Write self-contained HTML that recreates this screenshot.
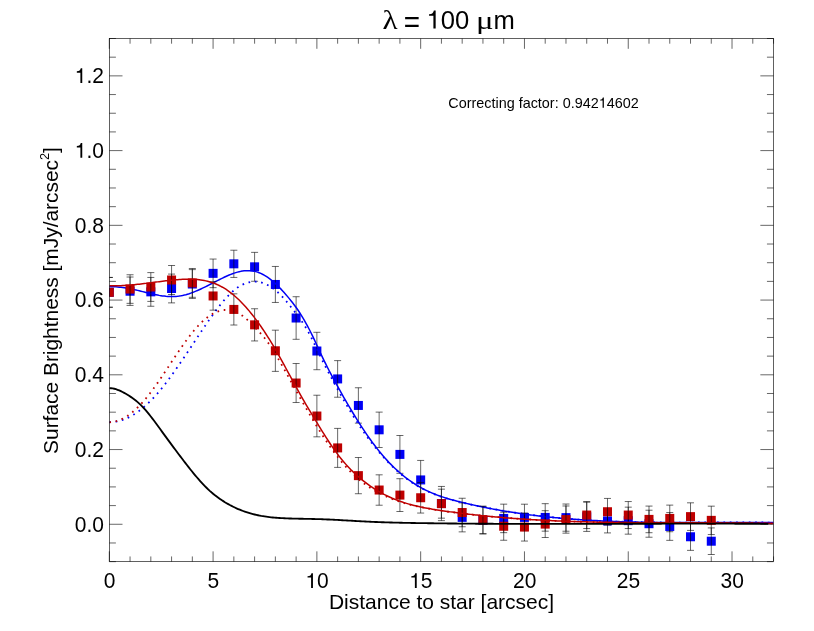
<!DOCTYPE html><html><head><meta charset="utf-8"><title>plot</title>
<style>html,body{margin:0;padding:0;background:#fff}svg{display:block}text{font-family:"Liberation Sans",sans-serif;fill:#000}.sy{font-family:"Liberation Serif",serif}</style></head><body><div style="will-change:transform;width:814px;height:631px;overflow:hidden;background:#fff">
<svg width="814" height="631" viewBox="0 0 814 631">
<rect width="814" height="631" fill="#fff"/>
<defs><clipPath id="c"><rect x="109.30" y="38.50" width="664.25" height="523.15"/></clipPath></defs>
<g clip-path="url(#c)">
<g fill="#0000f6"><rect x="104.80" y="287.84" width="9.0" height="9.0"/><rect x="125.56" y="286.72" width="9.0" height="9.0"/><rect x="146.32" y="287.35" width="9.0" height="9.0"/><rect x="167.07" y="283.99" width="9.0" height="9.0"/><rect x="187.83" y="279.51" width="9.0" height="9.0"/><rect x="208.59" y="268.86" width="9.0" height="9.0"/><rect x="229.35" y="259.33" width="9.0" height="9.0"/><rect x="250.10" y="262.32" width="9.0" height="9.0"/><rect x="270.86" y="279.96" width="9.0" height="9.0"/><rect x="291.62" y="313.51" width="9.0" height="9.0"/><rect x="312.38" y="346.51" width="9.0" height="9.0"/><rect x="333.14" y="374.42" width="9.0" height="9.0"/><rect x="353.89" y="400.95" width="9.0" height="9.0"/><rect x="374.65" y="425.32" width="9.0" height="9.0"/><rect x="395.41" y="449.90" width="9.0" height="9.0"/><rect x="416.17" y="475.43" width="9.0" height="9.0"/><rect x="436.93" y="499.04" width="9.0" height="9.0"/><rect x="457.68" y="512.87" width="9.0" height="9.0"/><rect x="478.44" y="515.67" width="9.0" height="9.0"/><rect x="499.20" y="513.92" width="9.0" height="9.0"/><rect x="519.96" y="512.91" width="9.0" height="9.0"/><rect x="540.71" y="512.91" width="9.0" height="9.0"/><rect x="561.47" y="513.13" width="9.0" height="9.0"/><rect x="582.23" y="512.31" width="9.0" height="9.0"/><rect x="602.99" y="516.42" width="9.0" height="9.0"/><rect x="623.75" y="516.16" width="9.0" height="9.0"/><rect x="644.50" y="519.22" width="9.0" height="9.0"/><rect x="665.26" y="521.95" width="9.0" height="9.0"/><rect x="686.02" y="532.26" width="9.0" height="9.0"/><rect x="706.78" y="536.71" width="9.0" height="9.0"/></g>
<path d="M105.80 277.44 H112.80 M105.80 307.24 H112.80 M130.06 277.02 V305.42 M126.56 277.02 H133.56 M126.56 305.42 H133.56 M150.82 277.45 V306.25 M147.32 277.45 H154.32 M147.32 306.25 H154.32 M171.57 274.09 V302.89 M168.07 274.09 H175.07 M168.07 302.89 H175.07 M192.33 269.61 V298.41 M188.83 269.61 H195.83 M188.83 298.41 H195.83 M213.09 259.06 V287.66 M209.59 259.06 H216.59 M209.59 287.66 H216.59 M233.85 250.23 V277.43 M230.35 250.23 H237.35 M230.35 277.43 H237.35 M254.60 252.37 V281.27 M251.10 252.37 H258.10 M251.10 281.27 H258.10 M275.36 266.46 V302.46 M271.86 266.46 H278.86 M271.86 302.46 H278.86 M296.12 296.71 V339.31 M292.62 296.71 H299.62 M292.62 339.31 H299.62 M316.88 332.31 V369.71 M313.38 332.31 H320.38 M313.38 369.71 H320.38 M337.64 360.62 V397.22 M334.14 360.62 H341.14 M334.14 397.22 H341.14 M358.39 387.75 V423.15 M354.89 387.75 H361.89 M354.89 423.15 H361.89 M379.15 412.12 V447.52 M375.65 412.12 H382.65 M375.65 447.52 H382.65 M399.91 435.50 V473.30 M396.41 435.50 H403.41 M396.41 473.30 H403.41 M420.67 460.43 V499.43 M417.17 460.43 H424.17 M417.17 499.43 H424.17 M441.43 486.44 V520.64 M437.93 486.44 H444.93 M437.93 520.64 H444.93 M462.18 502.87 V531.87 M458.68 502.87 H465.68 M458.68 531.87 H465.68 M482.94 506.42 V533.92 M479.44 506.42 H486.44 M479.44 533.92 H486.44 M503.70 504.17 V532.67 M500.20 504.17 H507.20 M500.20 532.67 H507.20 M524.46 504.21 V530.61 M520.96 504.21 H527.96 M520.96 530.61 H527.96 M545.21 503.66 V531.16 M541.71 503.66 H548.71 M541.71 531.16 H548.71 M565.97 504.03 V531.23 M562.47 504.03 H569.47 M562.47 531.23 H569.47 M586.73 502.21 V531.41 M583.23 502.21 H590.23 M583.23 531.41 H590.23 M607.49 508.92 V532.92 M603.99 508.92 H610.99 M603.99 532.92 H610.99 M628.25 507.16 V534.16 M624.75 507.16 H631.75 M624.75 534.16 H631.75 M649.00 510.22 V537.22 M645.50 510.22 H652.50 M645.50 537.22 H652.50 M669.76 512.55 V540.35 M666.26 512.55 H673.26 M666.26 540.35 H673.26 M690.52 523.16 V550.36 M687.02 523.16 H694.02 M687.02 550.36 H694.02 M711.28 527.91 V554.51 M707.78 527.91 H714.78 M707.78 554.51 H714.78" stroke="#000" stroke-width="0.6" fill="none"/>
</g>
<g clip-path="url(#c)" fill="none" stroke-linejoin="round">
<path d="M109.30 286.62 L110.96 286.65 L112.63 286.70 L114.29 286.77 L115.96 286.87 L117.62 287.00 L119.29 287.15 L120.95 287.32 L122.62 287.52 L124.28 287.75 L125.95 288.00 L127.61 288.27 L129.28 288.57 L130.94 288.90 L132.61 289.24 L134.27 289.61 L135.94 289.99 L137.60 290.38 L139.27 290.78 L140.93 291.19 L142.60 291.61 L144.26 292.02 L145.93 292.44 L147.59 292.85 L149.25 293.26 L150.92 293.65 L152.58 294.03 L154.25 294.40 L155.91 294.75 L157.58 295.07 L159.24 295.38 L160.91 295.65 L162.57 295.90 L164.24 296.11 L165.90 296.29 L167.57 296.43 L169.23 296.52 L170.90 296.58 L172.56 296.58 L174.23 296.54 L175.89 296.44 L177.56 296.29 L179.22 296.08 L180.89 295.81 L182.55 295.48 L184.22 295.10 L185.88 294.67 L187.54 294.19 L189.21 293.67 L190.87 293.10 L192.54 292.49 L194.20 291.85 L195.87 291.17 L197.53 290.46 L199.20 289.72 L200.86 288.96 L202.53 288.18 L204.19 287.37 L205.86 286.55 L207.52 285.71 L209.19 284.86 L210.85 284.01 L212.52 283.15 L214.18 282.28 L215.85 281.42 L217.51 280.56 L219.18 279.71 L220.84 278.87 L222.51 278.05 L224.17 277.25 L225.84 276.48 L227.50 275.74 L229.16 275.03 L230.83 274.36 L232.49 273.73 L234.16 273.15 L235.82 272.62 L237.49 272.14 L239.15 271.72 L240.82 271.36 L242.48 271.07 L244.15 270.85 L245.81 270.70 L247.48 270.63 L249.14 270.65 L250.81 270.75 L252.47 270.95 L254.14 271.23 L255.80 271.62 L257.47 272.11 L259.13 272.71 L260.80 273.41 L262.46 274.22 L264.13 275.12 L265.79 276.11 L267.45 277.20 L269.12 278.38 L270.78 279.65 L272.45 280.99 L274.11 282.42 L275.78 283.93 L277.44 285.50 L279.11 287.15 L280.77 288.87 L282.44 290.65 L284.10 292.50 L285.77 294.40 L287.43 296.36 L289.10 298.37 L290.76 300.43 L292.43 302.54 L294.09 304.71 L295.76 306.96 L297.42 309.30 L299.09 311.75 L300.75 314.32 L302.42 317.02 L304.08 319.83 L305.74 322.77 L307.41 325.82 L309.07 328.98 L310.74 332.25 L312.40 335.64 L314.07 339.12 L315.73 342.71 L317.40 346.36 L319.06 350.01 L320.73 353.61 L322.39 357.13 L324.06 360.58 L325.72 363.94 L327.39 367.25 L329.05 370.48 L330.72 373.67 L332.38 376.80 L334.05 379.89 L335.71 382.95 L337.38 385.97 L339.04 388.97 L340.71 391.94 L342.37 394.89 L344.03 397.81 L345.70 400.71 L347.36 403.58 L349.03 406.42 L350.69 409.22 L352.36 412.00 L354.02 414.74 L355.69 417.45 L357.35 420.12 L359.02 422.75 L360.68 425.35 L362.35 427.90 L364.01 430.42 L365.68 432.89 L367.34 435.32 L369.01 437.70 L370.67 440.04 L372.34 442.33 L374.00 444.57 L375.67 446.76 L377.33 448.90 L379.00 450.98 L380.66 453.02 L382.33 455.00 L383.99 456.92 L385.65 458.80 L387.32 460.63 L388.98 462.40 L390.65 464.13 L392.31 465.80 L393.98 467.43 L395.64 469.01 L397.31 470.55 L398.97 472.04 L400.64 473.48 L402.30 474.88 L403.97 476.23 L405.63 477.54 L407.30 478.80 L408.96 480.02 L410.63 481.21 L412.29 482.35 L413.96 483.45 L415.62 484.50 L417.29 485.52 L418.95 486.51 L420.62 487.45 L422.28 488.36 L423.94 489.23 L425.61 490.07 L427.27 490.87 L428.94 491.65 L430.60 492.39 L432.27 493.11 L433.93 493.79 L435.60 494.45 L437.26 495.09 L438.93 495.70 L440.59 496.29 L442.26 496.86 L443.92 497.40 L445.59 497.93 L447.25 498.44 L448.92 498.94 L450.58 499.42 L452.25 499.88 L453.91 500.33 L455.58 500.77 L457.24 501.20 L458.91 501.62 L460.57 502.04 L462.23 502.44 L463.90 502.84 L465.56 503.24 L467.23 503.63 L468.89 504.02 L470.56 504.40 L472.22 504.77 L473.89 505.14 L475.55 505.50 L477.22 505.86 L478.88 506.22 L480.55 506.57 L482.21 506.91 L483.88 507.25 L485.54 507.59 L487.21 507.92 L488.87 508.24 L490.54 508.56 L492.20 508.88 L493.87 509.19 L495.53 509.50 L497.20 509.80 L498.86 510.09 L500.52 510.39 L502.19 510.67 L503.85 510.96 L505.52 511.24 L507.18 511.51 L508.85 511.78 L510.51 512.05 L512.18 512.31 L513.84 512.56 L515.51 512.82 L517.17 513.06 L518.84 513.31 L520.50 513.55 L522.17 513.79 L523.83 514.02 L525.50 514.24 L527.16 514.47 L528.83 514.69 L530.49 514.90 L532.16 515.12 L533.82 515.32 L535.49 515.53 L537.15 515.73 L538.82 515.93 L540.48 516.12 L542.14 516.31 L543.81 516.49 L545.47 516.67 L547.14 516.85 L548.80 517.03 L550.47 517.20 L552.13 517.37 L553.80 517.53 L555.46 517.69 L557.13 517.85 L558.79 518.00 L560.46 518.15 L562.12 518.30 L563.79 518.45 L565.45 518.59 L567.12 518.72 L568.78 518.86 L570.45 518.99 L572.11 519.12 L573.78 519.24 L575.44 519.37 L577.11 519.49 L578.77 519.60 L580.43 519.72 L582.10 519.83 L583.76 519.94 L585.43 520.04 L587.09 520.14 L588.76 520.24 L590.42 520.34 L592.09 520.43 L593.75 520.53 L595.42 520.61 L597.08 520.70 L598.75 520.78 L600.41 520.87 L602.08 520.95 L603.74 521.02 L605.41 521.10 L607.07 521.17 L608.74 521.24 L610.40 521.31 L612.07 521.37 L613.73 521.43 L615.40 521.49 L617.06 521.55 L618.72 521.61 L620.39 521.66 L622.05 521.72 L623.72 521.77 L625.38 521.82 L627.05 521.86 L628.71 521.91 L630.38 521.95 L632.04 521.99 L633.71 522.03 L635.37 522.07 L637.04 522.10 L638.70 522.14 L640.37 522.17 L642.03 522.20 L643.70 522.23 L645.36 522.26 L647.03 522.28 L648.69 522.31 L650.36 522.33 L652.02 522.35 L653.69 522.37 L655.35 522.39 L657.01 522.41 L658.68 522.43 L660.34 522.44 L662.01 522.46 L663.67 522.47 L665.34 522.48 L667.00 522.49 L668.67 522.50 L670.33 522.51 L672.00 522.52 L673.66 522.53 L675.33 522.53 L676.99 522.54 L678.66 522.54 L680.32 522.55 L681.99 522.55 L683.65 522.55 L685.32 522.55 L686.98 522.55 L688.65 522.55 L690.31 522.55 L691.98 522.55 L693.64 522.55 L695.31 522.55 L696.97 522.55 L698.63 522.54 L700.30 522.54 L701.96 522.54 L703.63 522.53 L705.29 522.53 L706.96 522.52 L708.62 522.52 L710.29 522.51 L711.95 522.51 L713.62 522.50 L715.28 522.50 L716.95 522.49 L718.61 522.49 L720.28 522.48 L721.94 522.48 L723.61 522.47 L725.27 522.47 L726.94 522.46 L728.60 522.46 L730.27 522.45 L731.93 522.45 L733.60 522.45 L735.26 522.44 L736.92 522.44 L738.59 522.44 L740.25 522.44 L741.92 522.43 L743.58 522.43 L745.25 522.43 L746.91 522.43 L748.58 522.43 L750.24 522.44 L751.91 522.44 L753.57 522.44 L755.24 522.44 L756.90 522.45 L758.57 522.45 L760.23 522.46 L761.90 522.47 L763.56 522.47 L765.23 522.48 L766.89 522.49 L768.56 522.50 L770.22 522.52 L771.89 522.53 L773.55 522.54" stroke="#0000f6" stroke-width="1.5"/>
<path d="M109.30 422.24 L110.96 422.19 L112.63 422.08 L114.29 421.89 L115.96 421.63 L117.62 421.30 L119.29 420.90 L120.95 420.44 L122.62 419.90 L124.28 419.30 L125.95 418.62 L127.61 417.88 L129.28 417.07 L130.94 416.20 L132.61 415.26 L134.27 414.25 L135.94 413.17 L137.60 412.03 L139.27 410.82 L140.93 409.55 L142.60 408.21 L144.26 406.81 L145.93 405.34 L147.59 403.81 L149.25 402.22 L150.92 400.56 L152.58 398.84 L154.25 397.06 L155.91 395.22 L157.58 393.32 L159.24 391.36 L160.91 389.35 L162.57 387.29 L164.24 385.19 L165.90 383.04 L167.57 380.84 L169.23 378.61 L170.90 376.34 L172.56 374.04 L174.23 371.70 L175.89 369.34 L177.56 366.95 L179.22 364.53 L180.89 362.09 L182.55 359.64 L184.22 357.17 L185.88 354.68 L187.54 352.18 L189.21 349.68 L190.87 347.17 L192.54 344.65 L194.20 342.14 L195.87 339.62 L197.53 337.11 L199.20 334.61 L200.86 332.12 L202.53 329.64 L204.19 327.17 L205.86 324.73 L207.52 322.30 L209.19 319.89 L210.85 317.52 L212.52 315.17 L214.18 312.87 L215.85 310.61 L217.51 308.40 L219.18 306.24 L220.84 304.14 L222.51 302.11 L224.17 300.15 L225.84 298.26 L227.50 296.45 L229.16 294.73 L230.83 293.10 L232.49 291.57 L234.16 290.14 L235.82 288.81 L237.49 287.60 L239.15 286.50 L240.82 285.51 L242.48 284.63 L244.15 283.87 L245.81 283.22 L247.48 282.68 L249.14 282.26 L250.81 281.95 L252.47 281.74 L254.14 281.66 L255.80 281.68 L257.47 281.81 L259.13 282.05 L260.80 282.41 L262.46 282.87 L264.13 283.45 L265.79 284.13 L267.45 284.93 L269.12 285.83 L270.78 286.85 L272.45 287.97 L274.11 289.20 L275.78 290.54 L277.44 291.98 L279.11 293.52 L280.77 295.16 L282.44 296.89 L284.10 298.71 L285.77 300.63 L287.43 302.62 L289.10 304.66 L290.76 306.75 L292.43 308.84 L294.09 310.95 L295.76 313.08 L297.42 315.25 L299.09 317.48 L300.75 319.81 L302.42 322.23 L304.08 324.79 L305.74 327.49 L307.41 330.36 L309.07 333.39 L310.74 336.56 L312.40 339.84 L314.07 343.21 L315.73 346.63 L317.40 350.09 L319.06 353.56 L320.73 357.02 L322.39 360.43 L324.06 363.77 L325.72 367.04 L327.39 370.25 L329.05 373.41 L330.72 376.54 L332.38 379.64 L334.05 382.71 L335.71 385.77 L337.38 388.79 L339.04 391.80 L340.71 394.77 L342.37 397.71 L344.03 400.62 L345.70 403.50 L347.36 406.34 L349.03 409.15 L350.69 411.91 L352.36 414.63 L354.02 417.31 L355.69 419.95 L357.35 422.54 L359.02 425.08 L360.68 427.58 L362.35 430.02 L364.01 432.43 L365.68 434.78 L367.34 437.09 L369.01 439.35 L370.67 441.57 L372.34 443.74 L374.00 445.87 L375.67 447.95 L377.33 449.99 L379.00 451.98 L380.66 453.93 L382.33 455.83 L383.99 457.69 L385.65 459.50 L387.32 461.27 L388.98 463.00 L390.65 464.68 L392.31 466.32 L393.98 467.92 L395.64 469.47 L397.31 470.98 L398.97 472.45 L400.64 473.87 L402.30 475.26 L403.97 476.60 L405.63 477.90 L407.30 479.16 L408.96 480.37 L410.63 481.55 L412.29 482.68 L413.96 483.78 L415.62 484.83 L417.29 485.84 L418.95 486.81 L420.62 487.75 L422.28 488.65 L423.94 489.52 L425.61 490.35 L427.27 491.15 L428.94 491.92 L430.60 492.65 L432.27 493.36 L433.93 494.04 L435.60 494.70 L437.26 495.33 L438.93 495.93 L440.59 496.51 L442.26 497.07 L443.92 497.61 L445.59 498.13 L447.25 498.63 L448.92 499.12 L450.58 499.59 L452.25 500.04 L453.91 500.48 L455.58 500.91 L457.24 501.33 L458.91 501.74 L460.57 502.14 L462.23 502.54 L463.90 502.92 L465.56 503.31 L467.23 503.68 L468.89 504.06 L470.56 504.42 L472.22 504.79 L473.89 505.15 L475.55 505.50 L477.22 505.85 L478.88 506.20 L480.55 506.54 L482.21 506.88 L483.88 507.21 L485.54 507.54 L487.21 507.87 L488.87 508.19 L490.54 508.50 L492.20 508.81 L493.87 509.12 L495.53 509.42 L497.20 509.72 L498.86 510.02 L500.52 510.31 L502.19 510.59 L503.85 510.87 L505.52 511.15 L507.18 511.43 L508.85 511.70 L510.51 511.96 L512.18 512.22 L513.84 512.48 L515.51 512.74 L517.17 512.99 L518.84 513.23 L520.50 513.47 L522.17 513.71 L523.83 513.95 L525.50 514.18 L527.16 514.40 L528.83 514.62 L530.49 514.84 L532.16 515.06 L533.82 515.27 L535.49 515.48 L537.15 515.68 L538.82 515.88 L540.48 516.08 L542.14 516.27 L543.81 516.46 L545.47 516.65 L547.14 516.83 L548.80 517.01 L550.47 517.18 L552.13 517.35 L553.80 517.52 L555.46 517.68 L557.13 517.84 L558.79 518.00 L560.46 518.16 L562.12 518.31 L563.79 518.45 L565.45 518.60 L567.12 518.74 L568.78 518.88 L570.45 519.01 L572.11 519.14 L573.78 519.27 L575.44 519.39 L577.11 519.51 L578.77 519.63 L580.43 519.75 L582.10 519.86 L583.76 519.97 L585.43 520.07 L587.09 520.18 L588.76 520.28 L590.42 520.38 L592.09 520.47 L593.75 520.56 L595.42 520.65 L597.08 520.74 L598.75 520.82 L600.41 520.91 L602.08 520.98 L603.74 521.06 L605.41 521.14 L607.07 521.21 L608.74 521.28 L610.40 521.34 L612.07 521.41 L613.73 521.47 L615.40 521.53 L617.06 521.59 L618.72 521.65 L620.39 521.70 L622.05 521.75 L623.72 521.80 L625.38 521.85 L627.05 521.89 L628.71 521.94 L630.38 521.98 L632.04 522.02 L633.71 522.06 L635.37 522.09 L637.04 522.13 L638.70 522.16 L640.37 522.19 L642.03 522.22 L643.70 522.25 L645.36 522.28 L647.03 522.30 L648.69 522.32 L650.36 522.35 L652.02 522.37 L653.69 522.39 L655.35 522.40 L657.01 522.42 L658.68 522.43 L660.34 522.45 L662.01 522.46 L663.67 522.47 L665.34 522.48 L667.00 522.49 L668.67 522.50 L670.33 522.51 L672.00 522.52 L673.66 522.52 L675.33 522.53 L676.99 522.53 L678.66 522.53 L680.32 522.54 L681.99 522.54 L683.65 522.54 L685.32 522.54 L686.98 522.54 L688.65 522.54 L690.31 522.53 L691.98 522.53 L693.64 522.53 L695.31 522.53 L696.97 522.52 L698.63 522.52 L700.30 522.52 L701.96 522.51 L703.63 522.51 L705.29 522.50 L706.96 522.50 L708.62 522.49 L710.29 522.49 L711.95 522.48 L713.62 522.48 L715.28 522.47 L716.95 522.47 L718.61 522.46 L720.28 522.46 L721.94 522.45 L723.61 522.45 L725.27 522.44 L726.94 522.44 L728.60 522.43 L730.27 522.43 L731.93 522.43 L733.60 522.43 L735.26 522.42 L736.92 522.42 L738.59 522.42 L740.25 522.42 L741.92 522.42 L743.58 522.42 L745.25 522.42 L746.91 522.43 L748.58 522.43 L750.24 522.43 L751.91 522.44 L753.57 522.44 L755.24 522.45 L756.90 522.46 L758.57 522.46 L760.23 522.47 L761.90 522.49 L763.56 522.50 L765.23 522.51 L766.89 522.52 L768.56 522.54 L770.22 522.56 L771.89 522.57 L773.55 522.59" stroke="#0000f6" stroke-width="1.8" stroke-dasharray="1.7 4.65"/>
</g>
<g clip-path="url(#c)">
<g fill="#be0000"><rect x="104.80" y="287.84" width="9.0" height="9.0"/><rect x="125.56" y="284.55" width="9.0" height="9.0"/><rect x="146.32" y="282.50" width="9.0" height="9.0"/><rect x="167.07" y="275.51" width="9.0" height="9.0"/><rect x="187.83" y="278.39" width="9.0" height="9.0"/><rect x="208.59" y="291.46" width="9.0" height="9.0"/><rect x="229.35" y="304.92" width="9.0" height="9.0"/><rect x="250.10" y="320.35" width="9.0" height="9.0"/><rect x="270.86" y="346.28" width="9.0" height="9.0"/><rect x="291.62" y="378.53" width="9.0" height="9.0"/><rect x="312.38" y="411.53" width="9.0" height="9.0"/><rect x="333.14" y="443.40" width="9.0" height="9.0"/><rect x="353.89" y="471.13" width="9.0" height="9.0"/><rect x="374.65" y="485.52" width="9.0" height="9.0"/><rect x="395.41" y="490.60" width="9.0" height="9.0"/><rect x="416.17" y="493.25" width="9.0" height="9.0"/><rect x="436.93" y="499.16" width="9.0" height="9.0"/><rect x="457.68" y="508.01" width="9.0" height="9.0"/><rect x="478.44" y="515.45" width="9.0" height="9.0"/><rect x="499.20" y="521.76" width="9.0" height="9.0"/><rect x="519.96" y="522.55" width="9.0" height="9.0"/><rect x="540.71" y="519.60" width="9.0" height="9.0"/><rect x="561.47" y="515.07" width="9.0" height="9.0"/><rect x="582.23" y="510.55" width="9.0" height="9.0"/><rect x="602.99" y="507.23" width="9.0" height="9.0"/><rect x="623.75" y="510.55" width="9.0" height="9.0"/><rect x="644.50" y="514.89" width="9.0" height="9.0"/><rect x="665.26" y="513.92" width="9.0" height="9.0"/><rect x="686.02" y="512.12" width="9.0" height="9.0"/><rect x="706.78" y="515.86" width="9.0" height="9.0"/></g>
<path d="M105.80 277.44 H112.80 M105.80 307.24 H112.80 M130.06 274.75 V303.35 M126.56 274.75 H133.56 M126.56 303.35 H133.56 M150.82 272.60 V301.40 M147.32 272.60 H154.32 M147.32 301.40 H154.32 M171.57 265.51 V294.51 M168.07 265.51 H175.07 M168.07 294.51 H175.07 M192.33 268.49 V297.29 M188.83 268.49 H195.83 M188.83 297.29 H195.83 M213.09 281.76 V310.16 M209.59 281.76 H216.59 M209.59 310.16 H216.59 M233.85 293.82 V325.02 M230.35 293.82 H237.35 M230.35 325.02 H237.35 M254.60 308.75 V340.95 M251.10 308.75 H258.10 M251.10 340.95 H258.10 M275.36 330.18 V371.38 M271.86 330.18 H278.86 M271.86 371.38 H278.86 M296.12 363.53 V402.53 M292.62 363.53 H299.62 M292.62 402.53 H299.62 M316.88 395.23 V436.83 M313.38 395.23 H320.38 M313.38 436.83 H320.38 M337.64 428.40 V467.40 M334.14 428.40 H341.14 M334.14 467.40 H341.14 M358.39 457.53 V493.73 M354.89 457.53 H361.89 M354.89 493.73 H361.89 M379.15 474.82 V505.22 M375.65 474.82 H382.65 M375.65 505.22 H382.65 M399.91 478.70 V511.50 M396.41 478.70 H403.41 M396.41 511.50 H403.41 M420.67 482.45 V513.05 M417.17 482.45 H424.17 M417.17 513.05 H424.17 M441.43 489.16 V518.16 M437.93 489.16 H444.93 M437.93 518.16 H444.93 M462.18 498.26 V526.76 M458.68 498.26 H465.68 M458.68 526.76 H465.68 M482.94 506.20 V533.70 M479.44 506.20 H486.44 M479.44 533.70 H486.44 M503.70 512.26 V540.26 M500.20 512.26 H507.20 M500.20 540.26 H507.20 M524.46 513.05 V541.05 M520.96 513.05 H527.96 M520.96 541.05 H527.96 M545.21 510.70 V537.50 M541.71 510.70 H548.71 M541.71 537.50 H548.71 M565.97 505.97 V533.17 M562.47 505.97 H569.47 M562.47 533.17 H569.47 M586.73 501.55 V528.55 M583.23 501.55 H590.23 M583.23 528.55 H590.23 M607.49 498.43 V525.03 M603.99 498.43 H610.99 M603.99 525.03 H610.99 M628.25 501.55 V528.55 M624.75 501.55 H631.75 M624.75 528.55 H631.75 M649.00 506.09 V532.69 M645.50 506.09 H652.50 M645.50 532.69 H652.50 M669.76 505.12 V531.72 M666.26 505.12 H673.26 M666.26 531.72 H673.26 M690.52 502.82 V530.42 M687.02 502.82 H694.02 M687.02 530.42 H694.02 M711.28 506.16 V534.56 M707.78 506.16 H714.78 M707.78 534.56 H714.78" stroke="#000" stroke-width="0.6" fill="none"/>
</g>
<g clip-path="url(#c)" fill="none" stroke-linejoin="round">
<path d="M109.30 285.86 L110.96 285.86 L112.63 285.85 L114.29 285.83 L115.96 285.80 L117.62 285.76 L119.29 285.70 L120.95 285.64 L122.62 285.56 L124.28 285.47 L125.95 285.37 L127.61 285.26 L129.28 285.14 L130.94 285.00 L132.61 284.86 L134.27 284.70 L135.94 284.53 L137.60 284.36 L139.27 284.17 L140.93 283.98 L142.60 283.79 L144.26 283.58 L145.93 283.38 L147.59 283.17 L149.25 282.95 L150.92 282.74 L152.58 282.52 L154.25 282.30 L155.91 282.09 L157.58 281.87 L159.24 281.66 L160.91 281.45 L162.57 281.24 L164.24 281.04 L165.90 280.84 L167.57 280.65 L169.23 280.47 L170.90 280.30 L172.56 280.13 L174.23 279.97 L175.89 279.83 L177.56 279.69 L179.22 279.57 L180.89 279.46 L182.55 279.37 L184.22 279.29 L185.88 279.24 L187.54 279.20 L189.21 279.19 L190.87 279.21 L192.54 279.25 L194.20 279.33 L195.87 279.43 L197.53 279.57 L199.20 279.75 L200.86 279.96 L202.53 280.22 L204.19 280.52 L205.86 280.86 L207.52 281.25 L209.19 281.69 L210.85 282.18 L212.52 282.72 L214.18 283.32 L215.85 283.98 L217.51 284.69 L219.18 285.47 L220.84 286.31 L222.51 287.22 L224.17 288.19 L225.84 289.24 L227.50 290.35 L229.16 291.54 L230.83 292.79 L232.49 294.11 L234.16 295.50 L235.82 296.95 L237.49 298.47 L239.15 300.05 L240.82 301.70 L242.48 303.41 L244.15 305.19 L245.81 307.03 L247.48 308.93 L249.14 310.89 L250.81 312.91 L252.47 314.99 L254.14 317.13 L255.80 319.33 L257.47 321.59 L259.13 323.91 L260.80 326.28 L262.46 328.71 L264.13 331.19 L265.79 333.73 L267.45 336.32 L269.12 338.96 L270.78 341.66 L272.45 344.41 L274.11 347.21 L275.78 350.06 L277.44 352.96 L279.11 355.91 L280.77 358.89 L282.44 361.90 L284.10 364.94 L285.77 367.99 L287.43 371.06 L289.10 374.14 L290.76 377.21 L292.43 380.29 L294.09 383.35 L295.76 386.40 L297.42 389.42 L299.09 392.42 L300.75 395.38 L302.42 398.30 L304.08 401.18 L305.74 404.02 L307.41 406.82 L309.07 409.60 L310.74 412.37 L312.40 415.13 L314.07 417.89 L315.73 420.64 L317.40 423.39 L319.06 426.13 L320.73 428.84 L322.39 431.54 L324.06 434.20 L325.72 436.84 L327.39 439.43 L329.05 441.98 L330.72 444.48 L332.38 446.93 L334.05 449.32 L335.71 451.64 L337.38 453.90 L339.04 456.08 L340.71 458.19 L342.37 460.24 L344.03 462.21 L345.70 464.12 L347.36 465.96 L349.03 467.74 L350.69 469.47 L352.36 471.13 L354.02 472.75 L355.69 474.31 L357.35 475.82 L359.02 477.29 L360.68 478.71 L362.35 480.09 L364.01 481.42 L365.68 482.71 L367.34 483.96 L369.01 485.17 L370.67 486.34 L372.34 487.47 L374.00 488.56 L375.67 489.61 L377.33 490.63 L379.00 491.61 L380.66 492.55 L382.33 493.47 L383.99 494.34 L385.65 495.19 L387.32 496.00 L388.98 496.79 L390.65 497.54 L392.31 498.27 L393.98 498.96 L395.64 499.63 L397.31 500.28 L398.97 500.89 L400.64 501.48 L402.30 502.05 L403.97 502.60 L405.63 503.12 L407.30 503.62 L408.96 504.10 L410.63 504.56 L412.29 505.01 L413.96 505.43 L415.62 505.84 L417.29 506.23 L418.95 506.60 L420.62 506.96 L422.28 507.31 L423.94 507.64 L425.61 507.96 L427.27 508.27 L428.94 508.57 L430.60 508.86 L432.27 509.14 L433.93 509.41 L435.60 509.68 L437.26 509.94 L438.93 510.19 L440.59 510.44 L442.26 510.69 L443.92 510.93 L445.59 511.17 L447.25 511.40 L448.92 511.64 L450.58 511.87 L452.25 512.09 L453.91 512.32 L455.58 512.54 L457.24 512.75 L458.91 512.97 L460.57 513.18 L462.23 513.38 L463.90 513.59 L465.56 513.79 L467.23 513.99 L468.89 514.18 L470.56 514.38 L472.22 514.57 L473.89 514.75 L475.55 514.94 L477.22 515.12 L478.88 515.30 L480.55 515.47 L482.21 515.65 L483.88 515.82 L485.54 515.98 L487.21 516.15 L488.87 516.31 L490.54 516.47 L492.20 516.63 L493.87 516.78 L495.53 516.93 L497.20 517.08 L498.86 517.23 L500.52 517.37 L502.19 517.51 L503.85 517.65 L505.52 517.78 L507.18 517.92 L508.85 518.05 L510.51 518.18 L512.18 518.31 L513.84 518.43 L515.51 518.55 L517.17 518.67 L518.84 518.79 L520.50 518.90 L522.17 519.02 L523.83 519.13 L525.50 519.24 L527.16 519.34 L528.83 519.45 L530.49 519.55 L532.16 519.65 L533.82 519.74 L535.49 519.84 L537.15 519.93 L538.82 520.03 L540.48 520.12 L542.14 520.20 L543.81 520.29 L545.47 520.37 L547.14 520.45 L548.80 520.53 L550.47 520.61 L552.13 520.69 L553.80 520.76 L555.46 520.84 L557.13 520.91 L558.79 520.98 L560.46 521.04 L562.12 521.11 L563.79 521.17 L565.45 521.24 L567.12 521.30 L568.78 521.35 L570.45 521.41 L572.11 521.47 L573.78 521.52 L575.44 521.58 L577.11 521.63 L578.77 521.68 L580.43 521.73 L582.10 521.77 L583.76 521.82 L585.43 521.86 L587.09 521.91 L588.76 521.95 L590.42 521.99 L592.09 522.03 L593.75 522.06 L595.42 522.10 L597.08 522.13 L598.75 522.17 L600.41 522.20 L602.08 522.23 L603.74 522.26 L605.41 522.29 L607.07 522.32 L608.74 522.35 L610.40 522.37 L612.07 522.40 L613.73 522.42 L615.40 522.45 L617.06 522.47 L618.72 522.49 L620.39 522.51 L622.05 522.53 L623.72 522.55 L625.38 522.57 L627.05 522.58 L628.71 522.60 L630.38 522.61 L632.04 522.63 L633.71 522.64 L635.37 522.65 L637.04 522.67 L638.70 522.68 L640.37 522.69 L642.03 522.70 L643.70 522.71 L645.36 522.72 L647.03 522.73 L648.69 522.73 L650.36 522.74 L652.02 522.75 L653.69 522.76 L655.35 522.76 L657.01 522.77 L658.68 522.77 L660.34 522.78 L662.01 522.78 L663.67 522.79 L665.34 522.79 L667.00 522.79 L668.67 522.80 L670.33 522.80 L672.00 522.80 L673.66 522.81 L675.33 522.81 L676.99 522.81 L678.66 522.81 L680.32 522.82 L681.99 522.82 L683.65 522.82 L685.32 522.82 L686.98 522.82 L688.65 522.82 L690.31 522.83 L691.98 522.83 L693.64 522.83 L695.31 522.83 L696.97 522.83 L698.63 522.84 L700.30 522.84 L701.96 522.84 L703.63 522.85 L705.29 522.85 L706.96 522.85 L708.62 522.86 L710.29 522.86 L711.95 522.86 L713.62 522.87 L715.28 522.87 L716.95 522.88 L718.61 522.88 L720.28 522.89 L721.94 522.90 L723.61 522.90 L725.27 522.91 L726.94 522.92 L728.60 522.93 L730.27 522.94 L731.93 522.95 L733.60 522.96 L735.26 522.97 L736.92 522.98 L738.59 522.99 L740.25 523.01 L741.92 523.02 L743.58 523.03 L745.25 523.05 L746.91 523.06 L748.58 523.08 L750.24 523.10 L751.91 523.12 L753.57 523.14 L755.24 523.16 L756.90 523.18 L758.57 523.20 L760.23 523.22 L761.90 523.25 L763.56 523.27 L765.23 523.30 L766.89 523.33 L768.56 523.35 L770.22 523.38 L771.89 523.41 L773.55 523.45" stroke="#be0000" stroke-width="1.5"/>
<path d="M109.30 422.28 L110.96 422.17 L112.63 421.97 L114.29 421.66 L115.96 421.25 L117.62 420.75 L119.29 420.14 L120.95 419.44 L122.62 418.65 L124.28 417.76 L125.95 416.78 L127.61 415.71 L129.28 414.55 L130.94 413.31 L132.61 411.98 L134.27 410.56 L135.94 409.06 L137.60 407.48 L139.27 405.82 L140.93 404.08 L142.60 402.26 L144.26 400.37 L145.93 398.40 L147.59 396.36 L149.25 394.25 L150.92 392.08 L152.58 389.86 L154.25 387.58 L155.91 385.25 L157.58 382.88 L159.24 380.47 L160.91 378.04 L162.57 375.57 L164.24 373.08 L165.90 370.58 L167.57 368.06 L169.23 365.54 L170.90 363.01 L172.56 360.49 L174.23 357.97 L175.89 355.47 L177.56 352.99 L179.22 350.53 L180.89 348.10 L182.55 345.71 L184.22 343.35 L185.88 341.03 L187.54 338.77 L189.21 336.56 L190.87 334.41 L192.54 332.32 L194.20 330.30 L195.87 328.35 L197.53 326.49 L199.20 324.70 L200.86 323.01 L202.53 321.41 L204.19 319.91 L205.86 318.51 L207.52 317.20 L209.19 316.00 L210.85 314.90 L212.52 313.91 L214.18 313.02 L215.85 312.24 L217.51 311.57 L219.18 311.02 L220.84 310.57 L222.51 310.24 L224.17 310.02 L225.84 309.93 L227.50 309.95 L229.16 310.09 L230.83 310.36 L232.49 310.75 L234.16 311.26 L235.82 311.91 L237.49 312.68 L239.15 313.58 L240.82 314.62 L242.48 315.78 L244.15 317.07 L245.81 318.46 L247.48 319.94 L249.14 321.51 L250.81 323.14 L252.47 324.82 L254.14 326.55 L255.80 328.31 L257.47 330.09 L259.13 331.87 L260.80 333.66 L262.46 335.50 L264.13 337.46 L265.79 339.57 L267.45 341.80 L269.12 344.16 L270.78 346.62 L272.45 349.19 L274.11 351.85 L275.78 354.58 L277.44 357.39 L279.11 360.25 L280.77 363.16 L282.44 366.11 L284.10 369.08 L285.77 372.07 L287.43 375.06 L289.10 378.06 L290.76 381.06 L292.43 384.06 L294.09 387.05 L295.76 390.03 L297.42 393.00 L299.09 395.97 L300.75 398.91 L302.42 401.85 L304.08 404.76 L305.74 407.66 L307.41 410.53 L309.07 413.38 L310.74 416.21 L312.40 419.01 L314.07 421.79 L315.73 424.53 L317.40 427.24 L319.06 429.91 L320.73 432.55 L322.39 435.15 L324.06 437.72 L325.72 440.24 L327.39 442.71 L329.05 445.15 L330.72 447.53 L332.38 449.87 L334.05 452.15 L335.71 454.38 L337.38 456.56 L339.04 458.68 L340.71 460.74 L342.37 462.74 L344.03 464.68 L345.70 466.56 L347.36 468.37 L349.03 470.13 L350.69 471.82 L352.36 473.46 L354.02 475.03 L355.69 476.56 L357.35 478.03 L359.02 479.45 L360.68 480.81 L362.35 482.13 L364.01 483.40 L365.68 484.62 L367.34 485.80 L369.01 486.93 L370.67 488.03 L372.34 489.08 L374.00 490.09 L375.67 491.06 L377.33 492.00 L379.00 492.90 L380.66 493.76 L382.33 494.60 L383.99 495.40 L385.65 496.17 L387.32 496.92 L388.98 497.64 L390.65 498.33 L392.31 498.99 L393.98 499.63 L395.64 500.25 L397.31 500.84 L398.97 501.41 L400.64 501.96 L402.30 502.48 L403.97 502.99 L405.63 503.48 L407.30 503.94 L408.96 504.39 L410.63 504.82 L412.29 505.24 L413.96 505.64 L415.62 506.03 L417.29 506.40 L418.95 506.75 L420.62 507.10 L422.28 507.43 L423.94 507.76 L425.61 508.07 L427.27 508.37 L428.94 508.67 L430.60 508.95 L432.27 509.23 L433.93 509.51 L435.60 509.78 L437.26 510.04 L438.93 510.30 L440.59 510.55 L442.26 510.80 L443.92 511.05 L445.59 511.29 L447.25 511.53 L448.92 511.76 L450.58 511.99 L452.25 512.22 L453.91 512.44 L455.58 512.65 L457.24 512.87 L458.91 513.08 L460.57 513.28 L462.23 513.49 L463.90 513.68 L465.56 513.88 L467.23 514.07 L468.89 514.26 L470.56 514.45 L472.22 514.63 L473.89 514.81 L475.55 514.99 L477.22 515.16 L478.88 515.33 L480.55 515.50 L482.21 515.67 L483.88 515.83 L485.54 515.99 L487.21 516.15 L488.87 516.31 L490.54 516.46 L492.20 516.62 L493.87 516.77 L495.53 516.91 L497.20 517.06 L498.86 517.20 L500.52 517.34 L502.19 517.48 L503.85 517.62 L505.52 517.75 L507.18 517.88 L508.85 518.01 L510.51 518.14 L512.18 518.26 L513.84 518.39 L515.51 518.51 L517.17 518.63 L518.84 518.75 L520.50 518.86 L522.17 518.97 L523.83 519.08 L525.50 519.19 L527.16 519.30 L528.83 519.40 L530.49 519.51 L532.16 519.61 L533.82 519.71 L535.49 519.80 L537.15 519.90 L538.82 519.99 L540.48 520.08 L542.14 520.17 L543.81 520.26 L545.47 520.34 L547.14 520.43 L548.80 520.51 L550.47 520.59 L552.13 520.67 L553.80 520.74 L555.46 520.82 L557.13 520.89 L558.79 520.96 L560.46 521.03 L562.12 521.10 L563.79 521.17 L565.45 521.23 L567.12 521.29 L568.78 521.35 L570.45 521.41 L572.11 521.47 L573.78 521.53 L575.44 521.58 L577.11 521.63 L578.77 521.69 L580.43 521.73 L582.10 521.78 L583.76 521.83 L585.43 521.88 L587.09 521.92 L588.76 521.96 L590.42 522.00 L592.09 522.04 L593.75 522.08 L595.42 522.12 L597.08 522.15 L598.75 522.19 L600.41 522.22 L602.08 522.25 L603.74 522.28 L605.41 522.31 L607.07 522.34 L608.74 522.37 L610.40 522.39 L612.07 522.42 L613.73 522.44 L615.40 522.47 L617.06 522.49 L618.72 522.51 L620.39 522.53 L622.05 522.55 L623.72 522.57 L625.38 522.58 L627.05 522.60 L628.71 522.62 L630.38 522.63 L632.04 522.64 L633.71 522.66 L635.37 522.67 L637.04 522.68 L638.70 522.69 L640.37 522.70 L642.03 522.71 L643.70 522.72 L645.36 522.73 L647.03 522.74 L648.69 522.74 L650.36 522.75 L652.02 522.76 L653.69 522.76 L655.35 522.77 L657.01 522.77 L658.68 522.78 L660.34 522.78 L662.01 522.79 L663.67 522.79 L665.34 522.79 L667.00 522.80 L668.67 522.80 L670.33 522.80 L672.00 522.80 L673.66 522.80 L675.33 522.81 L676.99 522.81 L678.66 522.81 L680.32 522.81 L681.99 522.81 L683.65 522.81 L685.32 522.81 L686.98 522.81 L688.65 522.82 L690.31 522.82 L691.98 522.82 L693.64 522.82 L695.31 522.82 L696.97 522.82 L698.63 522.83 L700.30 522.83 L701.96 522.83 L703.63 522.83 L705.29 522.84 L706.96 522.84 L708.62 522.84 L710.29 522.85 L711.95 522.85 L713.62 522.85 L715.28 522.86 L716.95 522.86 L718.61 522.87 L720.28 522.88 L721.94 522.88 L723.61 522.89 L725.27 522.90 L726.94 522.91 L728.60 522.92 L730.27 522.93 L731.93 522.94 L733.60 522.95 L735.26 522.96 L736.92 522.97 L738.59 522.98 L740.25 523.00 L741.92 523.01 L743.58 523.03 L745.25 523.04 L746.91 523.06 L748.58 523.08 L750.24 523.10 L751.91 523.12 L753.57 523.14 L755.24 523.16 L756.90 523.19 L758.57 523.21 L760.23 523.23 L761.90 523.26 L763.56 523.29 L765.23 523.32 L766.89 523.35 L768.56 523.38 L770.22 523.41 L771.89 523.44 L773.55 523.48" stroke="#be0000" stroke-width="1.8" stroke-dasharray="1.7 4.65"/>
</g>
<path d="M109.30 388.14 L110.95 388.21 L112.60 388.42 L114.26 388.77 L115.91 389.23 L117.56 389.79 L119.21 390.45 L120.86 391.19 L122.51 392.00 L124.17 392.87 L125.82 393.79 L127.47 394.76 L129.12 395.78 L130.77 396.87 L132.42 398.02 L134.08 399.24 L135.73 400.53 L137.38 401.91 L139.03 403.38 L140.68 404.94 L142.34 406.60 L143.99 408.35 L145.64 410.20 L147.29 412.14 L148.94 414.14 L150.59 416.22 L152.25 418.35 L153.90 420.53 L155.55 422.75 L157.20 425.00 L158.85 427.28 L160.51 429.56 L162.16 431.85 L163.81 434.14 L165.46 436.41 L167.11 438.67 L168.76 440.92 L170.42 443.15 L172.07 445.38 L173.72 447.60 L175.37 449.80 L177.02 452.00 L178.67 454.20 L180.33 456.38 L181.98 458.56 L183.63 460.73 L185.28 462.88 L186.93 465.01 L188.59 467.13 L190.24 469.22 L191.89 471.28 L193.54 473.31 L195.19 475.30 L196.84 477.25 L198.50 479.17 L200.15 481.05 L201.80 482.88 L203.45 484.66 L205.10 486.37 L206.76 488.02 L208.41 489.59 L210.06 491.11 L211.71 492.56 L213.36 493.94 L215.01 495.28 L216.67 496.55 L218.32 497.77 L219.97 498.94 L221.62 500.07 L223.27 501.14 L224.92 502.18 L226.58 503.17 L228.23 504.12 L229.88 505.04 L231.53 505.91 L233.18 506.74 L234.84 507.54 L236.49 508.30 L238.14 509.03 L239.79 509.72 L241.44 510.38 L243.09 511.00 L244.75 511.59 L246.40 512.15 L248.05 512.68 L249.70 513.18 L251.35 513.65 L253.00 514.09 L254.66 514.51 L256.31 514.90 L257.96 515.26 L259.61 515.59 L261.26 515.91 L262.92 516.19 L264.57 516.46 L266.22 516.70 L267.87 516.93 L269.52 517.13 L271.17 517.32 L272.83 517.49 L274.48 517.64 L276.13 517.78 L277.78 517.90 L279.43 518.01 L281.09 518.11 L282.74 518.20 L284.39 518.28 L286.04 518.35 L287.69 518.42 L289.34 518.48 L291.00 518.53 L292.65 518.58 L294.30 518.62 L295.95 518.66 L297.60 518.69 L299.25 518.73 L300.91 518.76 L302.56 518.79 L304.21 518.81 L305.86 518.84 L307.51 518.87 L309.17 518.90 L310.82 518.93 L312.47 518.97 L314.12 519.01 L315.77 519.05 L317.42 519.09 L319.08 519.14 L320.73 519.20 L322.38 519.26 L324.03 519.32 L325.68 519.39 L327.34 519.46 L328.99 519.53 L330.64 519.61 L332.29 519.69 L333.94 519.77 L335.59 519.86 L337.25 519.95 L338.90 520.04 L340.55 520.13 L342.20 520.22 L343.85 520.31 L345.50 520.41 L347.16 520.50 L348.81 520.60 L350.46 520.70 L352.11 520.79 L353.76 520.89 L355.42 520.98 L357.07 521.08 L358.72 521.17 L360.37 521.26 L362.02 521.35 L363.67 521.44 L365.33 521.52 L366.98 521.60 L368.63 521.68 L370.28 521.76 L371.93 521.84 L373.58 521.91 L375.24 521.98 L376.89 522.04 L378.54 522.11 L380.19 522.17 L381.84 522.23 L383.50 522.28 L385.15 522.34 L386.80 522.39 L388.45 522.44 L390.10 522.49 L391.75 522.53 L393.41 522.58 L395.06 522.62 L396.71 522.66 L398.36 522.70 L400.01 522.74 L401.67 522.77 L403.32 522.81 L404.97 522.84 L406.62 522.87 L408.27 522.90 L409.92 522.93 L411.58 522.96 L413.23 522.99 L414.88 523.02 L416.53 523.05 L418.18 523.07 L419.83 523.10 L421.49 523.12 L423.14 523.15 L424.79 523.17 L426.44 523.19 L428.09 523.22 L429.75 523.24 L431.40 523.26 L433.05 523.28 L434.70 523.30 L436.35 523.32 L438.00 523.34 L439.66 523.36 L441.31 523.38 L442.96 523.40 L444.61 523.42 L446.26 523.44 L447.92 523.46 L449.57 523.47 L451.22 523.49 L452.87 523.51 L454.52 523.52 L456.17 523.54 L457.83 523.55 L459.48 523.57 L461.13 523.58 L462.78 523.60 L464.43 523.61 L466.08 523.62 L467.74 523.64 L469.39 523.65 L471.04 523.66 L472.69 523.67 L474.34 523.69 L476.00 523.70 L477.65 523.71 L479.30 523.72 L480.95 523.73 L482.60 523.74 L484.25 523.75 L485.91 523.76 L487.56 523.77 L489.21 523.78 L490.86 523.78 L492.51 523.79 L494.16 523.80 L495.82 523.81 L497.47 523.81 L499.12 523.82 L500.77 523.83 L502.42 523.83 L504.08 523.84 L505.73 523.85 L507.38 523.85 L509.03 523.86 L510.68 523.86 L512.33 523.87 L513.99 523.87 L515.64 523.87 L517.29 523.88 L518.94 523.88 L520.59 523.89 L522.25 523.89 L523.90 523.89 L525.55 523.89 L527.20 523.90 L528.85 523.90 L530.50 523.90 L532.16 523.90 L533.81 523.91 L535.46 523.91 L537.11 523.91 L538.76 523.91 L540.41 523.91 L542.07 523.91 L543.72 523.91 L545.37 523.91 L547.02 523.91 L548.67 523.91 L550.33 523.91 L551.98 523.91 L553.63 523.91 L555.28 523.91 L556.93 523.91 L558.58 523.91 L560.24 523.91 L561.89 523.90 L563.54 523.90 L565.19 523.90 L566.84 523.90 L568.50 523.90 L570.15 523.89 L571.80 523.89 L573.45 523.89 L575.10 523.89 L576.75 523.89 L578.41 523.88 L580.06 523.88 L581.71 523.88 L583.36 523.87 L585.01 523.87 L586.66 523.87 L588.32 523.86 L589.97 523.86 L591.62 523.86 L593.27 523.85 L594.92 523.85 L596.58 523.85 L598.23 523.84 L599.88 523.84 L601.53 523.84 L603.18 523.83 L604.83 523.83 L606.49 523.82 L608.14 523.82 L609.79 523.82 L611.44 523.81 L613.09 523.81 L614.74 523.80 L616.40 523.80 L618.05 523.80 L619.70 523.79 L621.35 523.79 L623.00 523.78 L624.66 523.78 L626.31 523.78 L627.96 523.77 L629.61 523.77 L631.26 523.76 L632.91 523.76 L634.57 523.75 L636.22 523.75 L637.87 523.75 L639.52 523.74 L641.17 523.74 L642.83 523.73 L644.48 523.73 L646.13 523.73 L647.78 523.72 L649.43 523.72 L651.08 523.72 L652.74 523.71 L654.39 523.71 L656.04 523.71 L657.69 523.70 L659.34 523.70 L660.99 523.70 L662.65 523.69 L664.30 523.69 L665.95 523.69 L667.60 523.68 L669.25 523.68 L670.91 523.68 L672.56 523.68 L674.21 523.67 L675.86 523.67 L677.51 523.67 L679.16 523.67 L680.82 523.66 L682.47 523.66 L684.12 523.66 L685.77 523.66 L687.42 523.66 L689.08 523.66 L690.73 523.66 L692.38 523.65 L694.03 523.65 L695.68 523.65 L697.33 523.65 L698.99 523.65 L700.64 523.65 L702.29 523.65 L703.94 523.65 L705.59 523.65 L707.24 523.65 L708.90 523.65 L710.55 523.66 L712.20 523.66 L713.85 523.66 L715.50 523.66 L717.16 523.66 L718.81 523.66 L720.46 523.67 L722.11 523.67 L723.76 523.67 L725.41 523.67 L727.07 523.68 L728.72 523.68 L730.37 523.68 L732.02 523.69 L733.67 523.69 L735.32 523.70 L736.98 523.70 L738.63 523.71 L740.28 523.71 L741.93 523.72 L743.58 523.72 L745.24 523.73 L746.89 523.73 L748.54 523.74 L750.19 523.75 L751.84 523.76 L753.49 523.76 L755.15 523.77 L756.80 523.78 L758.45 523.79 L760.10 523.80 L761.75 523.80 L763.41 523.81 L765.06 523.82 L766.71 523.83 L768.36 523.84" stroke="#000" stroke-width="1.85" fill="none" clip-path="url(#c)"/>
<path d="M109.30 561.65 v-10.30 M109.30 38.50 v10.30 M130.06 561.65 v-5.20 M130.06 38.50 v5.20 M150.82 561.65 v-5.20 M150.82 38.50 v5.20 M171.57 561.65 v-5.20 M171.57 38.50 v5.20 M192.33 561.65 v-5.20 M192.33 38.50 v5.20 M213.09 561.65 v-10.30 M213.09 38.50 v10.30 M233.85 561.65 v-5.20 M233.85 38.50 v5.20 M254.60 561.65 v-5.20 M254.60 38.50 v5.20 M275.36 561.65 v-5.20 M275.36 38.50 v5.20 M296.12 561.65 v-5.20 M296.12 38.50 v5.20 M316.88 561.65 v-10.30 M316.88 38.50 v10.30 M337.64 561.65 v-5.20 M337.64 38.50 v5.20 M358.39 561.65 v-5.20 M358.39 38.50 v5.20 M379.15 561.65 v-5.20 M379.15 38.50 v5.20 M399.91 561.65 v-5.20 M399.91 38.50 v5.20 M420.67 561.65 v-10.30 M420.67 38.50 v10.30 M441.43 561.65 v-5.20 M441.43 38.50 v5.20 M462.18 561.65 v-5.20 M462.18 38.50 v5.20 M482.94 561.65 v-5.20 M482.94 38.50 v5.20 M503.70 561.65 v-5.20 M503.70 38.50 v5.20 M524.46 561.65 v-10.30 M524.46 38.50 v10.30 M545.21 561.65 v-5.20 M545.21 38.50 v5.20 M565.97 561.65 v-5.20 M565.97 38.50 v5.20 M586.73 561.65 v-5.20 M586.73 38.50 v5.20 M607.49 561.65 v-5.20 M607.49 38.50 v5.20 M628.25 561.65 v-10.30 M628.25 38.50 v10.30 M649.00 561.65 v-5.20 M649.00 38.50 v5.20 M669.76 561.65 v-5.20 M669.76 38.50 v5.20 M690.52 561.65 v-5.20 M690.52 38.50 v5.20 M711.28 561.65 v-5.20 M711.28 38.50 v5.20 M732.03 561.65 v-10.30 M732.03 38.50 v10.30 M752.79 561.65 v-5.20 M752.79 38.50 v5.20 M773.55 561.65 v-5.20 M773.55 38.50 v5.20 M109.30 561.65 h6.60 M773.55 561.65 h-6.60 M109.30 542.97 h6.60 M773.55 542.97 h-6.60 M109.30 524.28 h13.20 M773.55 524.28 h-13.20 M109.30 505.60 h6.60 M773.55 505.60 h-6.60 M109.30 486.91 h6.60 M773.55 486.91 h-6.60 M109.30 468.23 h6.60 M773.55 468.23 h-6.60 M109.30 449.55 h13.20 M773.55 449.55 h-13.20 M109.30 430.86 h6.60 M773.55 430.86 h-6.60 M109.30 412.18 h6.60 M773.55 412.18 h-6.60 M109.30 393.49 h6.60 M773.55 393.49 h-6.60 M109.30 374.81 h13.20 M773.55 374.81 h-13.20 M109.30 356.13 h6.60 M773.55 356.13 h-6.60 M109.30 337.44 h6.60 M773.55 337.44 h-6.60 M109.30 318.76 h6.60 M773.55 318.76 h-6.60 M109.30 300.07 h13.20 M773.55 300.07 h-13.20 M109.30 281.39 h6.60 M773.55 281.39 h-6.60 M109.30 262.71 h6.60 M773.55 262.71 h-6.60 M109.30 244.02 h6.60 M773.55 244.02 h-6.60 M109.30 225.34 h13.20 M773.55 225.34 h-13.20 M109.30 206.66 h6.60 M773.55 206.66 h-6.60 M109.30 187.97 h6.60 M773.55 187.97 h-6.60 M109.30 169.29 h6.60 M773.55 169.29 h-6.60 M109.30 150.60 h13.20 M773.55 150.60 h-13.20 M109.30 131.92 h6.60 M773.55 131.92 h-6.60 M109.30 113.24 h6.60 M773.55 113.24 h-6.60 M109.30 94.55 h6.60 M773.55 94.55 h-6.60 M109.30 75.87 h13.20 M773.55 75.87 h-13.20 M109.30 57.18 h6.60 M773.55 57.18 h-6.60 M109.30 38.50 h6.60 M773.55 38.50 h-6.60" stroke="#000" stroke-width="0.6" fill="none"/>
<rect x="109.45" y="38.5" width="664.05" height="522.95" fill="none" stroke="#000" stroke-width="0.62"/>
<text transform="translate(109.50 588) scale(1 1.03)" font-size="21.0" text-anchor="middle">0</text>
<text transform="translate(213.29 588) scale(1 1.03)" font-size="21.0" text-anchor="middle">5</text>
<path transform="translate(305.40 588.00) scale(0.02100 -0.02100)" d="M359 0 H271 V498 H101 V560 C229 564 268 611 289 703 H359 Z" fill="#000"/>
<text transform="translate(317.08 588) scale(1 1.03)" font-size="21.0">0</text>
<path transform="translate(409.19 588.00) scale(0.02100 -0.02100)" d="M359 0 H271 V498 H101 V560 C229 564 268 611 289 703 H359 Z" fill="#000"/>
<text transform="translate(420.87 588) scale(1 1.03)" font-size="21.0">5</text>
<text transform="translate(524.66 588) scale(1 1.03)" font-size="21.0" text-anchor="middle">20</text>
<text transform="translate(628.45 588) scale(1 1.03)" font-size="21.0" text-anchor="middle">25</text>
<text transform="translate(732.23 588) scale(1 1.03)" font-size="21.0" text-anchor="middle">30</text>
<text transform="translate(103.9 531.53) scale(1 1.03)" font-size="21.0" text-anchor="end">0.0</text>
<text transform="translate(103.9 456.80) scale(1 1.03)" font-size="21.0" text-anchor="end">0.2</text>
<text transform="translate(103.9 382.06) scale(1 1.03)" font-size="21.0" text-anchor="end">0.4</text>
<text transform="translate(103.9 307.32) scale(1 1.03)" font-size="21.0" text-anchor="end">0.6</text>
<text transform="translate(103.9 232.59) scale(1 1.03)" font-size="21.0" text-anchor="end">0.8</text>
<path transform="translate(74.71 157.85) scale(0.02100 -0.02100)" d="M359 0 H271 V498 H101 V560 C229 564 268 611 289 703 H359 Z" fill="#000"/>
<text transform="translate(103.9 157.85) scale(1 1.03)" font-size="21.0" text-anchor="end">.0</text>
<path transform="translate(74.71 83.12) scale(0.02100 -0.02100)" d="M359 0 H271 V498 H101 V560 C229 564 268 611 289 703 H359 Z" fill="#000"/>
<text transform="translate(103.9 83.12) scale(1 1.03)" font-size="21.0" text-anchor="end">.2</text>
<text x="441.5" y="609.2" font-size="21.0" text-anchor="middle">Distance to star [arcsec]</text>
<text transform="translate(57.7 300.5) rotate(-90)" font-size="20.92" text-anchor="middle">Surface Brightness [mJy/arcsec<tspan dy="-8.5" font-size="12.7">2</tspan><tspan dy="8.5">]</tspan></text>
<text transform="translate(382.5 28.6) scale(1.22 1.03)" font-size="25.6" class="sy">λ</text>
<text transform="translate(411.95 15.4) scale(1.09 1.164) translate(-411.95 -14.64)" x="404.4" y="28.6" font-size="25.6">=</text>
<path transform="translate(426.47 28.60) scale(0.02560 -0.02560)" d="M359 0 H271 V498 H101 V560 C229 564 268 611 289 703 H359 Z" fill="#000"/>
<text x="440.70" y="28.6" font-size="25.6">00</text>
<text transform="translate(476.0 28.6) scale(1.28 1)" font-size="25.6" class="sy">μ</text>
<text x="493.6" y="28.6" font-size="25.6">m</text>
<text x="448.30" y="107.7" font-size="14.4">Correcting factor: 0.942</text>
<path transform="translate(598.69 107.70) scale(0.01440 -0.01440)" d="M359 0 H271 V498 H101 V560 C229 564 268 611 289 703 H359 Z" fill="#000"/>
<text x="606.69" y="107.7" font-size="14.4">4602</text>
</svg></div></body></html>
